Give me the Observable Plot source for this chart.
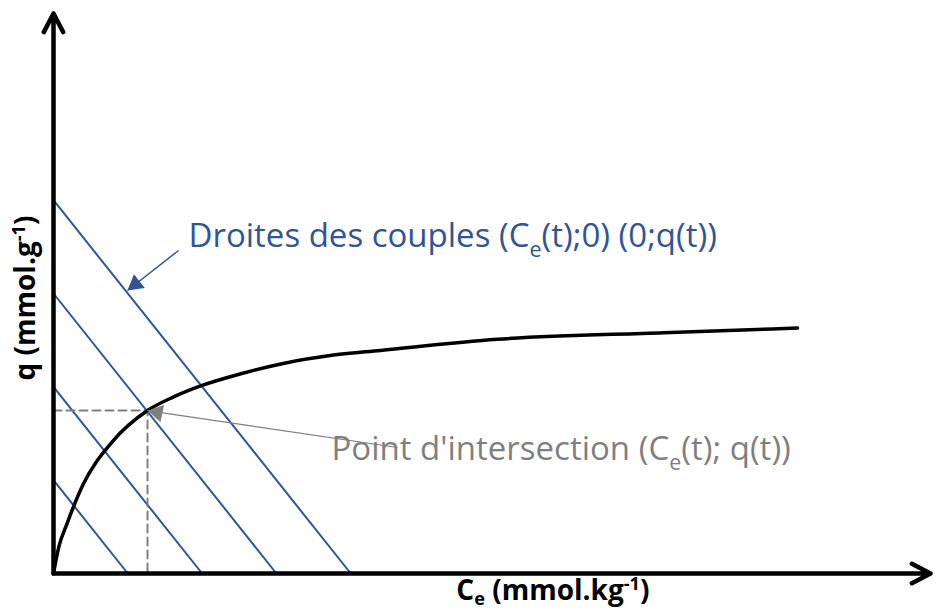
<!DOCTYPE html>
<html><head><meta charset="utf-8">
<script src="https://cdn.jsdelivr.net/npm/d3@7"></script>
<script src="https://cdn.jsdelivr.net/npm/@observablehq/plot@0.6"></script>
<style>body{margin:0;background:#fff} svg{display:block}</style>
</head><body><div id="chart"></div>
<script>
// Operating lines q = k - Ce (intercepts on both axes, normalised units)
const intercepts = [1, 2, 3, 4];
// Isotherm q(Ce)
const isothermCe = [0, 0.07, 0.18, 0.39, 0.79, 1.265, 1.61, 1.98, 2.52, 3.09, 3.77, 4.40, 5.97, 8.21, 10.01];
const isothermQ  = [0, 0.28, 0.53, 0.94, 1.41, 1.746, 1.89, 2.01, 2.14, 2.25, 2.34, 2.39, 2.51, 2.58, 2.63];
// Intersection point
const intersectionCe = [1.265];
const intersectionQ = [1.746];
// Axis extents
const xMax = [11.8];
const yMax = [6];
// Texts
const xLabel = ["C_{e} (mmol.kg^{-1})"];
const yLabel = ["q (mmol.g^{-1})"];
const noteLines = ["Droites des couples (C_{e}(t);0) (0;q(t))"];
const notePoint = ["Point d'intersection (C_{e}(t); q(t))"];
// Annotation anchors (data units): text start, arrow start/tip, head centre
const noteLinesPos = {x: 1.816, y: 3.607};
const noteLinesArrow = {x1: 1.682, y1: 3.461, x2: 0.996, y2: 3.032, hx: 1.102, hy: 3.099};
const notePointPos = {x: 3.74, y: 1.324};
const notePointArrow = {x1: 4.629, y1: 1.35, x2: 1.265, y2: 1.746, hx: 1.397, hy: 1.724};
const xLabelPos = {x: 6.72, y: -0.19};
const yLabelPos = {x: -0.363, y: 2.952};

const BLUE = "#2f5597", GREY = "#7f7f7f";
const FS_NOTE = 33, FS_AXIS = 28;

const curve = isothermCe.map((c, i) => ({ce: c, q: isothermQ[i]}));
const dashed = [
  {ce: 0, q: intersectionQ[0]},
  {ce: intersectionCe[0], q: intersectionQ[0]},
  {ce: intersectionCe[0], q: 0}
];

const chart = Plot.plot({
  width: 937, height: 610,
  marginLeft: 53, marginRight: 7, marginTop: 13, marginBottom: 37,
  x: {domain: [0, xMax[0]], axis: null},
  y: {domain: [0, yMax[0]], axis: null},
  style: {fontFamily: "'Open Sans'", background: "#fff"},
  marks: [
    Plot.link(intercepts, {x1: 0, y1: d => d, x2: d => d, y2: 0, stroke: BLUE, strokeWidth: 2}),
    Plot.line(dashed, {x: "ce", y: "q", stroke: GREY, strokeWidth: 2, strokeDasharray: "8,5"}),
    Plot.line(curve, {x: "ce", y: "q", stroke: "black", strokeWidth: 3.5, curve: "monotone-x"}),
    Plot.arrow([{x1: 0, y1: 0, x2: xMax[0], y2: 0}, {x1: 0, y1: 0, x2: 0, y2: yMax[0]}],
      {x1: "x1", y1: "y1", x2: "x2", y2: "y2", stroke: "black", strokeWidth: 4.5,
       headLength: 7, headAngle: 55, strokeLinecap: "round", strokeLinejoin: "round"}),
    // blue annotation arrow
    Plot.link([noteLinesArrow], {x1: "x1", y1: "y1", x2: "x2", y2: "y2", stroke: BLUE, strokeWidth: 1.5}),
    Plot.dot([noteLinesArrow], {x: "hx", y: "hy", symbol: "triangle", r: 6.5, fill: BLUE, rotate: 232}),
    // grey annotation arrow
    Plot.link([notePointArrow], {x1: "x1", y1: "y1", x2: "x2", y2: "y2", stroke: GREY, strokeWidth: 1.2}),
    Plot.dot([notePointArrow], {x: "hx", y: "hy", symbol: "triangle", r: 6.5, fill: GREY, rotate: 282}),
    // texts
    Plot.text(noteLines, {x: noteLinesPos.x, y: noteLinesPos.y, text: d => d, textAnchor: "start", fill: BLUE, fontSize: FS_NOTE, className: "rich-note"}),
    Plot.text(notePoint, {x: notePointPos.x, y: notePointPos.y, text: d => d, textAnchor: "start", fill: GREY, fontSize: FS_NOTE, className: "rich-note2"}),
    Plot.text(xLabel, {x: xLabelPos.x, y: xLabelPos.y, text: d => d, fill: "black", fontSize: FS_AXIS, fontWeight: "bold", className: "rich-axis"}),
    Plot.text(yLabel, {x: yLabelPos.x, y: yLabelPos.y, text: d => d, rotate: -90, fill: "black", fontSize: FS_AXIS, fontWeight: "bold", className: "rich-axis2"})
  ]
});

function enrich(root, fs, sub) {
  root.querySelectorAll("text").forEach(t => {
    const s = t.textContent;
    t.textContent = "";
    const re = /([_^])\{([^}]*)\}/g;
    let last = 0, m, shift = 0;
    const add = (str, kind) => {
      const ts = document.createElementNS("http://www.w3.org/2000/svg", "tspan");
      const target = kind === "_" ? sub * fs : kind === "^" ? -0.38 * fs : 0;
      const dy = target - shift; shift = target;
      if (dy) ts.setAttribute("dy", dy);
      if (kind) ts.setAttribute("font-size", fs * 0.65);
      ts.textContent = str;
      t.appendChild(ts);
    };
    while ((m = re.exec(s))) {
      if (m.index > last) add(s.slice(last, m.index));
      add(m[2], m[1]);
      last = re.lastIndex;
    }
    if (last < s.length) add(s.slice(last));
  });
}
document.getElementById("chart").appendChild(chart);
chart.querySelectorAll(".rich-note, .rich-note2").forEach(g => enrich(g, FS_NOTE, 0.28));
chart.querySelectorAll(".rich-axis, .rich-axis2").forEach(g => enrich(g, FS_AXIS, 0.18));
</script>
</body></html>
